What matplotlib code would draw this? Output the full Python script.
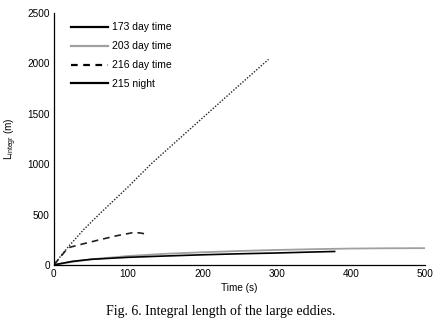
import matplotlib
matplotlib.use("Agg")
import matplotlib.pyplot as plt
from matplotlib.lines import Line2D

plt.rcParams["font.family"] = ["Liberation Sans", "DejaVu Sans"]

# series (time in s, integral length in m)
t_173 = [0, 25, 50, 100, 150, 200, 250, 300, 350, 378]
l_173 = [0, 35, 55, 75, 88, 100, 110, 118, 128, 133]

t_203 = [0, 25, 50, 100, 150, 200, 250, 300, 350, 400, 450, 500]
l_203 = [0, 30, 55, 88, 110, 125, 138, 148, 156, 162, 165, 166]

t_216 = [0, 19, 40, 62, 85, 105, 115, 125]
l_216 = [0, 170, 210, 250, 290, 318, 318, 305]

t_215 = [0, 10, 20, 40, 62, 100, 132, 200, 250, 289]
l_215 = [0, 95, 185, 350, 510, 775, 1010, 1458, 1787, 2040]

labels = ["173 day time", "203 day time", "216 day time", "215 night"]

fig = plt.figure(figsize=(4.42, 3.27), dpi=100)
ax = fig.add_axes([0.122, 0.19, 0.84, 0.77])

ax.plot(t_203, l_203, color="#a0a0a0", lw=1.3)
ax.plot(t_173, l_173, color="black", lw=1.2)
ax.plot(t_216, l_216, color="#222222", lw=1.2, ls=(0, (4, 3)))
ax.plot(t_215, l_215, color="#222222", lw=1.0, ls=(0, (1, 1.2)))

handles = [
    Line2D([], [], color="black", lw=1.6),
    Line2D([], [], color="#a0a0a0", lw=1.6),
    Line2D([], [], color="black", lw=1.6, ls=(0, (3, 2.5))),
    Line2D([], [], color="black", lw=1.6),
]
ax.legend(handles, labels, loc="upper left", bbox_to_anchor=(0.02, 1.0),
          frameon=False, fontsize=7.5, handlelength=3.6, labelspacing=0.85,
          handletextpad=0.4)

ax.set_xlim(0, 500)
ax.set_ylim(0, 2500)
ax.set_xticks([0, 100, 200, 300, 400, 500])
ax.set_yticks([0, 500, 1000, 1500, 2000, 2500])
ax.tick_params(length=0, labelsize=7.2, pad=3)
for s in ["top", "right"]:
    ax.spines[s].set_visible(False)
ax.spines["left"].set_linewidth(0.9)
ax.spines["bottom"].set_linewidth(0.9)

ax.set_xlabel("Time (s)", fontsize=7.2, labelpad=3)
ax.set_ylabel(r"L$_{\mathregular{integr}}$ (m)", fontsize=7.2, labelpad=6)

fig.text(0.5, 0.05, "Fig. 6. Integral length of the large eddies.",
         ha="center", va="center", fontsize=10, family="Liberation Serif")

fig.savefig("out.png", dpi=100)
